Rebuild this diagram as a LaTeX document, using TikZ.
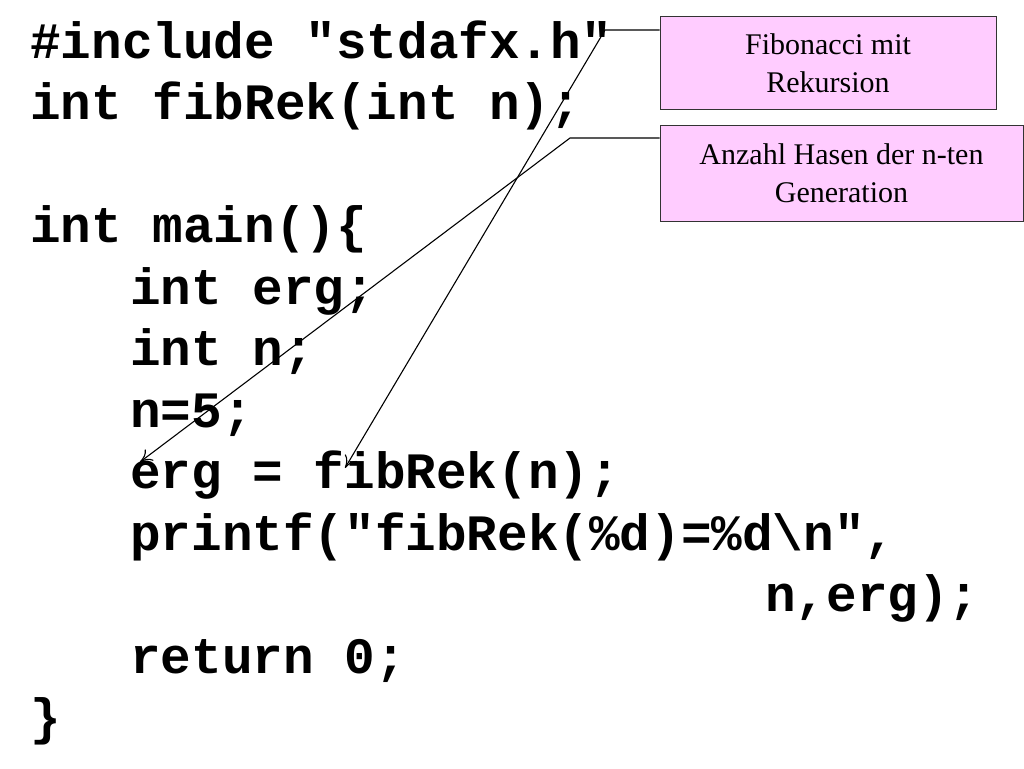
\documentclass[tikz,border=0pt]{standalone}
\usepackage{fontspec}
\usetikzlibrary{arrows.meta}
\setmainfont{Liberation Serif}
\newfontfamily\codefont{Liberation Mono}
\begin{document}
\begin{tikzpicture}[x=1pt,y=-1pt,
  code/.style={anchor=mid west,inner sep=0pt,font=\codefont\bfseries\fontsize{51}{51}\selectfont},
  note/.style={draw=black!80,line width=1pt,fill={rgb,255:red,255;green,204;blue,255},align=center,font=\fontsize{30}{38}\selectfont,inner sep=0pt},
  con/.style={draw,line width=1.1pt,-{To[length=12pt,width=14pt]}}]
\useasboundingbox (0,0) rectangle (1024,768);
\foreach \t/\x [count=\i] in {{\#include "stdafx.h"}/30,{int fibRek(int n);}/30,{}/30,{int main()\{}/30,{int erg;}/130,{int n;}/130,{n=5;}/130,{erg = fibRek(n);}/130,{printf("fibRek(\%d)=\%d\textbackslash n",}/130,{n,erg);}/765,{return 0;}/130,{\}}/30}
  \node[code] (l\i) at (\x,{56+61.5*(\i-1)}) {\t};
\node[note,minimum width=336pt,minimum height=92pt] (b1) at (828,63) {Fibonacci mit\\Rekursion};
\node[note,minimum width=363pt,minimum height=96pt] (b2) at (841.5,173) {Anzahl Hasen der n-ten\\Generation};
\coordinate (k1) at (605,30);
\coordinate (k2) at (570,138);
\coordinate (t1) at (345,468);
\coordinate (t2) at (140,462);
\draw[con] (b1.west |- k1) -- (k1) -- (t1);
\draw[con] (b2.west |- k2) -- (k2) -- (t2);
\end{tikzpicture}
\end{document}
